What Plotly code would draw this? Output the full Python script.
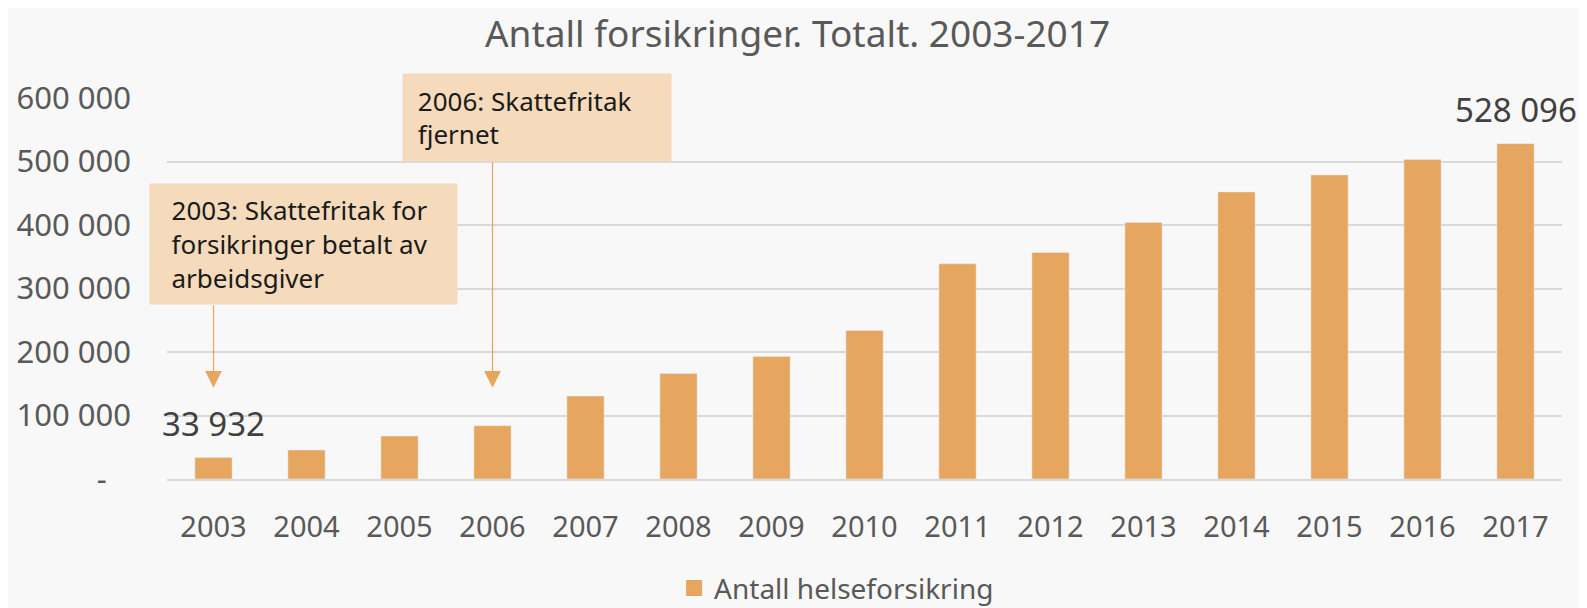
import plotly.graph_objects as go

years = [str(y) for y in range(2003, 2018)]
antall = [33932, 45600, 67700, 83900, 130600, 166300, 193000, 234000,
          338800, 356700, 404000, 452100, 478900, 503000, 528096]
y_ticks = [0, 100000, 200000, 300000, 400000, 500000, 600000]
y_labels = ["-\u00a0\u00a0\u00a0", "100 000", "200 000", "300 000",
            "400 000", "500 000", "600 000"]
note_2003 = ["2003: Skattefritak for", "forsikringer betalt av", "arbeidsgiver"]
note_2006 = ["2006: Skattefritak", "fjernet"]

BAR = "#E7A65F"
BOX = "#F5DABB"
FONT = "Noto Sans"


def fmt(v):
    return f"{v:,}".replace(",", " ")


def indent(lines, n):
    # small left inset inside the note box
    return "<br>".join("\u00a0" * n + s for s in lines)


fig = go.Figure()
fig.add_trace(go.Bar(
    x=years, y=antall, name="Antall helseforsikring",
    marker=dict(color=BAR), showlegend=False,
))
# legend entry with a bigger square swatch
fig.add_trace(go.Scatter(
    x=[None], y=[None], mode="markers", name="Antall helseforsikring",
    marker=dict(symbol="square", size=18, color=BAR),
))

# value labels on first and last bar (x given as category index)
for i in (0, len(years) - 1):
    fig.add_annotation(x=i, y=antall[i], text=fmt(antall[i]),
                       showarrow=False, yanchor="middle", yshift=34,
                       font=dict(size=33, color="#404040", family=FONT))

# arrows from the note boxes down to the bars
for yr, tail in [("2003", 276000), ("2006", 502000)]:
    i = years.index(yr)
    fig.add_annotation(x=i, y=143800, xref="x", yref="y", ax=i, ay=tail,
                       axref="x", ayref="y", text="", showarrow=True,
                       arrowhead=2, arrowsize=2.8, arrowwidth=1.2,
                       arrowcolor=BAR)

fig.add_annotation(x=-0.0129, y=0.777, xref="paper", yref="paper",
                   xanchor="left", yanchor="top", text=indent(note_2003, 2),
                   showarrow=False, align="left", valign="middle",
                   width=291, height=104, borderpad=8, bgcolor=BOX,
                   font=dict(size=26, color="#1a1a1a", family=FONT))
fig.add_annotation(x=0.1685, y=1.0656, xref="paper", yref="paper",
                   xanchor="left", yanchor="top", text=indent(note_2006, 1),
                   showarrow=False, align="left", valign="middle",
                   width=252, height=71, borderpad=8, bgcolor=BOX,
                   font=dict(size=26, color="#1a1a1a", family=FONT))

# page body adds an 8px offset, so the figure is 8px smaller on each axis
fig.update_layout(
    width=1579, height=600,
    margin=dict(l=159, r=25, t=90, b=129, autoexpand=False),
    paper_bgcolor="#F8F8F8", plot_bgcolor="#F8F8F8",
    font=dict(family=FONT, color="#595959", size=29),
    title=dict(text="Antall forsikringer. Totalt. 2003-2017",
               x=0.5, xanchor="center", y=0.9567, yanchor="middle",
               font=dict(size=37, color="#595959")),
    bargap=0.6,
    showlegend=True,
    legend=dict(orientation="h", x=0.48, xanchor="center", y=-0.287,
                yanchor="middle", font=dict(size=28), itemwidth=30),
    xaxis=dict(type="category", range=[-0.5, len(years) - 0.5],
               showgrid=False, showline=True,
               linecolor="#D9D9D9", linewidth=2, ticks="",
               ticklabelstandoff=21, tickfont=dict(size=29)),
    yaxis=dict(range=[0, 600000], tickvals=y_ticks, ticktext=y_labels,
               showgrid=True, gridcolor="#D9D9D9", gridwidth=1.5,
               zeroline=False, ticks="", ticklabelstandoff=35,
               tickfont=dict(size=31)),
)

fig.write_html("out.html")
